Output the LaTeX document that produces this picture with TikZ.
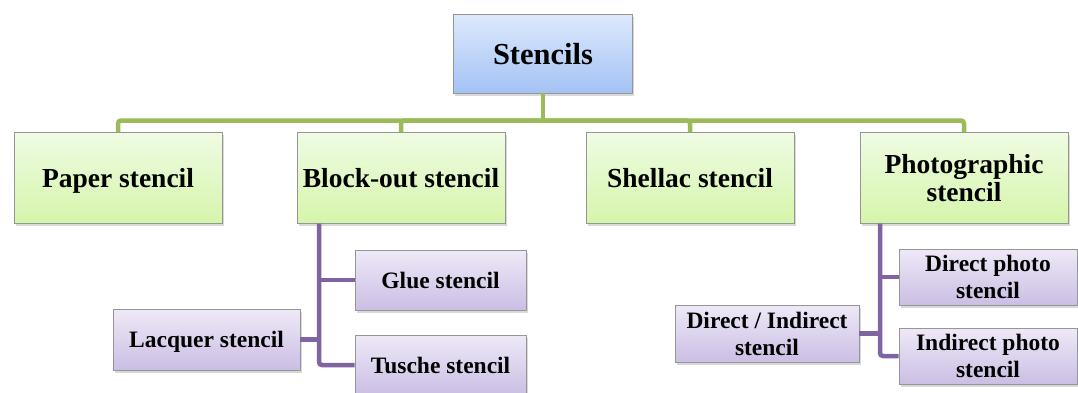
\documentclass[tikz,border=0pt]{standalone}
\usepackage{fontspec}
\setmainfont{Liberation Serif}
\usetikzlibrary{shadows}

\definecolor{boxline}{RGB}{150,150,150}
\definecolor{roottop}{RGB}{221,233,252}
\definecolor{rootbot}{RGB}{163,194,244}
\definecolor{greentop}{RGB}{239,251,227}
\definecolor{greenbot}{RGB}{213,245,170}
\definecolor{violettop}{RGB}{238,233,247}
\definecolor{violetbot}{RGB}{203,190,228}
\definecolor{trunkgreen}{RGB}{155,187,89}
\definecolor{branchviolet}{RGB}{128,100,162}

\begin{document}
\begin{tikzpicture}[
    x=1pt, y=-1pt,
    box/.style={rectangle, draw=boxline, line width=0.8pt, align=center, inner sep=2pt, text depth=0pt,
        drop shadow={shadow xshift=1.5pt, shadow yshift=-2.5pt, opacity=0.3}},
    rootbox/.style={box, top color=roottop, bottom color=rootbot, minimum width=179pt, minimum height=79pt,
        font=\fontsize{30.5}{33}\selectfont\bfseries},
    kind/.style={box, top color=greentop, bottom color=greenbot, minimum width=208pt, minimum height=91pt,
        font=\fontsize{27.5}{28}\selectfont\bfseries},
    sub/.style={box, top color=violettop, bottom color=violetbot, minimum height=57pt,
        font=\fontsize{23.5}{27}\selectfont\bfseries},
    trunk/.style={draw=trunkgreen, line width=4.5pt, rounded corners=3pt},
    branch/.style={draw=branchviolet, line width=4.5pt, rounded corners=3pt}
]
\useasboundingbox (0,0) rectangle (1078,392);

% root
\node[rootbox] (root) at (543,53.5) {Stencils};

% first level
\node[kind] (paper)    at (118,178) {Paper stencil};
\node[kind] (blockout) at (401,178) {Block-out stencil};
\node[kind] (shellac)  at (690,178) {Shellac stencil};
\node[kind] (photo)    at (964,178) {Photographic\\stencil};

% under block-out
\node[sub, minimum width=171pt, minimum height=60pt] (glue)    at (440.5,280) {Glue stencil};
\node[sub, minimum width=187pt, minimum height=61pt] (lacquer) at (206.5,339.5) {Lacquer stencil};
\node[sub, minimum width=171pt, minimum height=60pt] (tusche)  at (440.5,365) {Tusche stencil};

% under photographic
\node[sub, minimum width=178pt, minimum height=56pt] (directphoto)   at (988,277) {Direct photo\\stencil};
\node[sub, minimum width=184pt] (dirindirect)   at (767,333.5) {Direct / Indirect\\stencil};
\node[sub, minimum width=178pt, minimum height=56pt] (indirectphoto) at (988,356) {Indirect photo\\stencil};

% green bus
\coordinate (bus) at (543,120.5);
\draw[trunk] (root) -- (bus);
\draw[trunk] (bus) -| (paper.north);
\draw[trunk] (bus) -| (blockout.north);
\draw[trunk] (bus) -| (shellac.north);
\draw[trunk] (bus) -| (photo.north);

% violet branches
\coordinate (bospine) at (319,223.5);
\draw[branch] (bospine) |- (tusche.west);
\draw[branch] (glue.west) -- (glue.west -| bospine);
\draw[branch] (lacquer.east) -- (lacquer.east -| bospine);

\coordinate (phspine) at (880,223.5);
\draw[branch] (phspine) |- (indirectphoto.west);
\draw[branch] (directphoto.west) -- (directphoto.west -| phspine);
\draw[branch] (dirindirect.east) -- (dirindirect.east -| phspine);
\end{tikzpicture}
\end{document}
